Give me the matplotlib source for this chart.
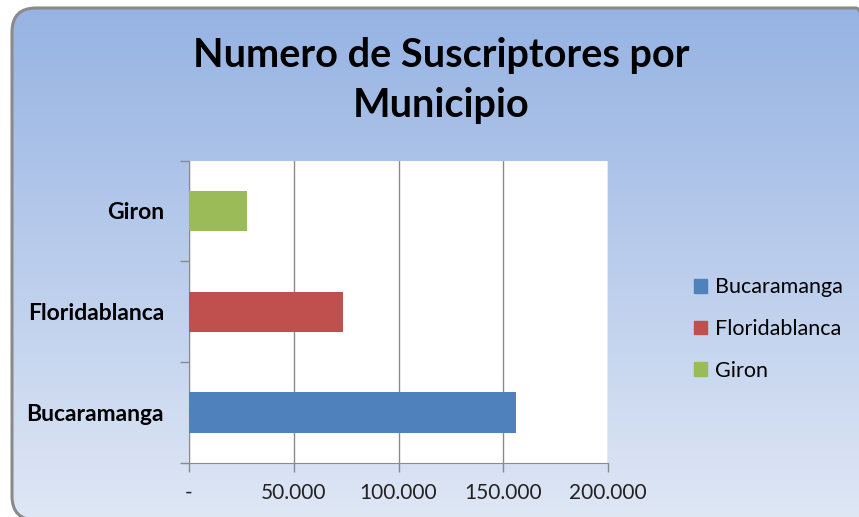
import numpy as np
import matplotlib.pyplot as plt
from matplotlib.patches import FancyBboxPatch
from matplotlib.ticker import FixedLocator

# Datos
municipios = ['Bucaramanga', 'Floridablanca', 'Giron']
suscriptores = [156000, 73500, 27500]
colores = ['#4f81bd', '#c0504d', '#9bbb59']
xticks = [0, 50000, 100000, 150000, 200000]
xtick_labels = ['-', '50.000', '100.000', '150.000', '200.000']

W, H = 859, 517
fig = plt.figure(figsize=(W / 100, H / 100), dpi=100)
fig.patch.set_facecolor('white')

# Fondo con degradado y borde redondeado (coordenadas en pixeles, y hacia arriba)
bg = fig.add_axes([0, 0, 1, 1], zorder=-1)
bg.set_xlim(0, W)
bg.set_ylim(0, H)
bg.axis('off')
grad = np.linspace(0, 1, 256).reshape(-1, 1)
top = np.array([0x96, 0xb3, 0xe3]) / 255
bot = np.array([0xdf, 0xe7, 0xf5]) / 255
img = top + grad[..., None] * (bot - top)
im = bg.imshow(img, extent=(12, 880, -3, H - 8), aspect='auto',
               interpolation='bilinear', origin='upper')
caja = FancyBboxPatch((12, -3), 868, H - 8 + 3, boxstyle='round,pad=0,rounding_size=24',
                      facecolor='none', edgecolor='#8a8a8a', linewidth=2.2)
bg.add_patch(caja)
im.set_clip_path(caja)

ax = fig.add_axes([189 / W, 1 - 463 / H, (608 - 189) / W, (463 - 160.5) / H])
ax.set_facecolor('white')
y = np.arange(len(municipios))
ax.barh(y, suscriptores, height=0.4, color=colores, zorder=3)

ax.set_xlim(0, 200000)
ax.set_ylim(-0.5, 2.5)
ax.set_xticks(xticks)
ax.set_xticklabels(xtick_labels, fontsize=15, family='Lato', color='#222222')
ax.set_yticks(y)
ax.set_yticklabels(municipios, fontsize=16.5, family='Lato', fontweight='bold')
ax.yaxis.set_minor_locator(FixedLocator([-0.5, 0.5, 1.5, 2.5]))
ax.tick_params(axis='y', which='major', length=0, pad=18)
ax.tick_params(axis='y', which='minor', length=6.5, color='#8a8a8a', width=1)
ax.tick_params(axis='x', length=6.5, color='#8a8a8a', width=1, pad=8)
ax.grid(axis='x', color='#8a8a8a', linewidth=1, zorder=0)
for s in ['top', 'right']:
    ax.spines[s].set_visible(False)
for s in ['left', 'bottom']:
    ax.spines[s].set_color('#8a8a8a')

fig.text(441 / W, 1 - 55 / H, 'Numero de Suscriptores por', ha='center', va='center',
         fontsize=28.5, fontweight='bold', family='Lato')
fig.text(441 / W, 1 - 106 / H, 'Municipio', ha='center', va='center',
         fontsize=28.5, fontweight='bold', family='Lato')

handles = [plt.Rectangle((0, 0), 1, 1, color=c) for c in colores]
leg = fig.legend(handles, municipios, loc='center left', bbox_to_anchor=(675 / W, 1 - 329 / H),
                 frameon=False, prop={'family': 'Lato', 'size': 15.5},
                 handlelength=0.6, handleheight=0.6, handletextpad=0.35, labelspacing=1.0)

fig.savefig('out.png', dpi=100)
